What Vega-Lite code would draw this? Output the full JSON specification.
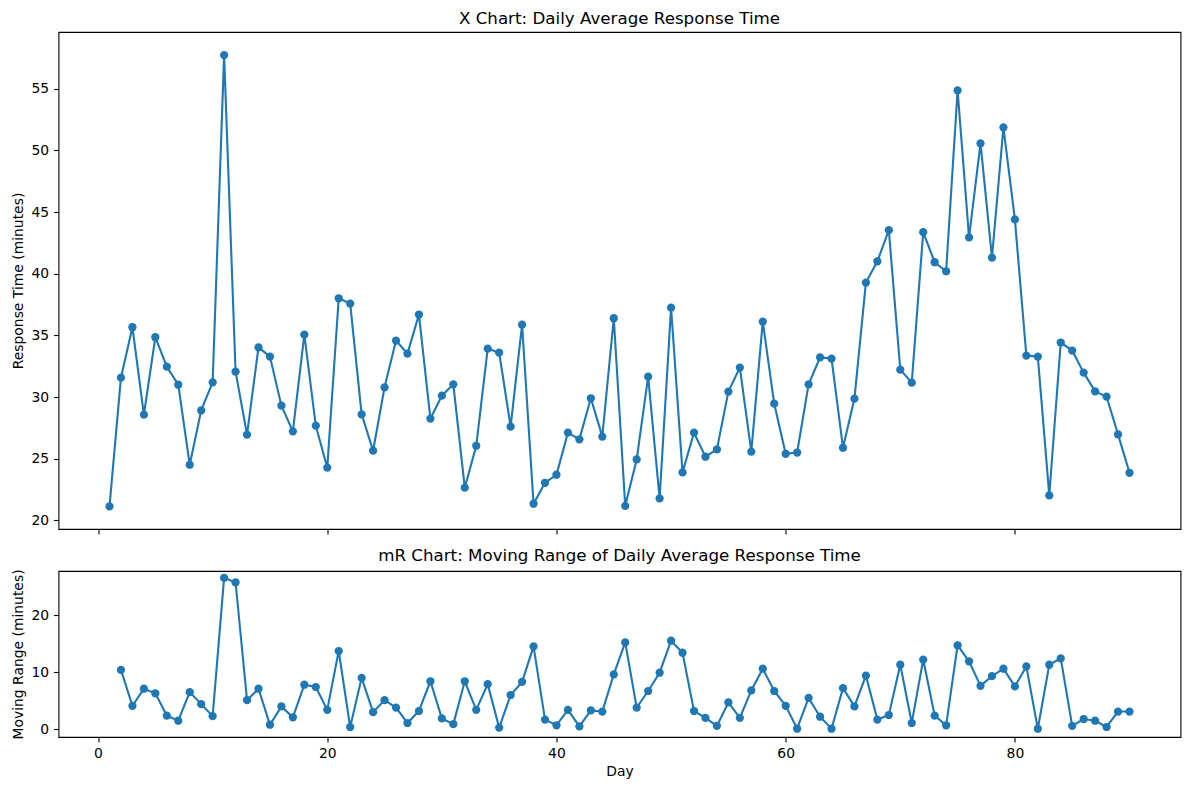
{
  "$schema": "https://vega.github.io/schema/vega-lite/v6.json",
  "padding": {"left": 10.5, "top": 10, "right": 9, "bottom": 10},
  "background": "white",
  "spacing": 12,
  "config": {
    "font": "DejaVu Sans",
    "view": {"stroke": "#000", "strokeWidth": 1.1},
    "axis": {
      "domain": false,
      "grid": false,
      "labelFont": "DejaVu Sans",
      "labelFontSize": 13.9,
      "labelColor": "#000",
      "titleFont": "DejaVu Sans",
      "titleFontSize": 13.9,
      "titleFontWeight": "normal",
      "titleColor": "#000",
      "tickColor": "#000",
      "tickSize": 4.9,
      "tickWidth": 1.1,
      "labelPadding": 4.9,
      "titlePadding": 5.6
    },
    "title": {"font": "DejaVu Sans", "fontSize": 16.7, "fontWeight": "normal", "color": "#000", "offset": 4, "baseline": "alphabetic"}
  },
  "data": {
    "values": [
      {"day": 1, "x": 21.13, "mr": null},
      {"day": 2, "x": 31.57, "mr": 10.4},
      {"day": 3, "x": 35.66, "mr": 4.1},
      {"day": 4, "x": 28.57, "mr": 7.1},
      {"day": 5, "x": 34.85, "mr": 6.3},
      {"day": 6, "x": 32.46, "mr": 2.4},
      {"day": 7, "x": 31.0, "mr": 1.5},
      {"day": 8, "x": 24.51, "mr": 6.5},
      {"day": 9, "x": 28.92, "mr": 4.4},
      {"day": 10, "x": 31.19, "mr": 2.3},
      {"day": 11, "x": 57.73, "mr": 26.5},
      {"day": 12, "x": 32.06, "mr": 25.7},
      {"day": 13, "x": 26.95, "mr": 5.1},
      {"day": 14, "x": 34.03, "mr": 7.1},
      {"day": 15, "x": 33.28, "mr": 0.8},
      {"day": 16, "x": 29.3, "mr": 4.0},
      {"day": 17, "x": 27.22, "mr": 2.1},
      {"day": 18, "x": 35.06, "mr": 7.8},
      {"day": 19, "x": 27.68, "mr": 7.4},
      {"day": 20, "x": 24.27, "mr": 3.4},
      {"day": 21, "x": 38.01, "mr": 13.7},
      {"day": 22, "x": 37.58, "mr": 0.4},
      {"day": 23, "x": 28.6, "mr": 9.0},
      {"day": 24, "x": 25.65, "mr": 3.0},
      {"day": 25, "x": 30.79, "mr": 5.1},
      {"day": 26, "x": 34.58, "mr": 3.8},
      {"day": 27, "x": 33.52, "mr": 1.1},
      {"day": 28, "x": 36.69, "mr": 3.2},
      {"day": 29, "x": 28.25, "mr": 8.4},
      {"day": 30, "x": 30.11, "mr": 1.9},
      {"day": 31, "x": 31.03, "mr": 0.9},
      {"day": 32, "x": 22.65, "mr": 8.4},
      {"day": 33, "x": 26.05, "mr": 3.4},
      {"day": 34, "x": 33.93, "mr": 7.9},
      {"day": 35, "x": 33.6, "mr": 0.3},
      {"day": 36, "x": 27.6, "mr": 6.0},
      {"day": 37, "x": 35.87, "mr": 8.3},
      {"day": 38, "x": 21.35, "mr": 14.5},
      {"day": 39, "x": 23.05, "mr": 1.7},
      {"day": 40, "x": 23.7, "mr": 0.7},
      {"day": 41, "x": 27.11, "mr": 3.4},
      {"day": 42, "x": 26.57, "mr": 0.5},
      {"day": 43, "x": 29.9, "mr": 3.3},
      {"day": 44, "x": 26.79, "mr": 3.1},
      {"day": 45, "x": 36.39, "mr": 9.6},
      {"day": 46, "x": 21.18, "mr": 15.2},
      {"day": 47, "x": 24.94, "mr": 3.8},
      {"day": 48, "x": 31.65, "mr": 6.7},
      {"day": 49, "x": 21.78, "mr": 9.9},
      {"day": 50, "x": 37.25, "mr": 15.5},
      {"day": 51, "x": 23.89, "mr": 13.4},
      {"day": 52, "x": 27.11, "mr": 3.2},
      {"day": 53, "x": 25.16, "mr": 2.0},
      {"day": 54, "x": 25.75, "mr": 0.6},
      {"day": 55, "x": 30.44, "mr": 4.7},
      {"day": 56, "x": 32.39, "mr": 2.0},
      {"day": 57, "x": 25.57, "mr": 6.8},
      {"day": 58, "x": 36.12, "mr": 10.6},
      {"day": 59, "x": 29.46, "mr": 6.7},
      {"day": 60, "x": 25.4, "mr": 4.1},
      {"day": 61, "x": 25.5, "mr": 0.1},
      {"day": 62, "x": 31.03, "mr": 5.5},
      {"day": 63, "x": 33.22, "mr": 2.2},
      {"day": 64, "x": 33.12, "mr": 0.1},
      {"day": 65, "x": 25.89, "mr": 7.2},
      {"day": 66, "x": 29.87, "mr": 4.0},
      {"day": 67, "x": 39.28, "mr": 9.4},
      {"day": 68, "x": 41.01, "mr": 1.7},
      {"day": 69, "x": 43.53, "mr": 2.5},
      {"day": 70, "x": 32.22, "mr": 11.3},
      {"day": 71, "x": 31.17, "mr": 1.1},
      {"day": 72, "x": 43.37, "mr": 12.2},
      {"day": 73, "x": 40.93, "mr": 2.4},
      {"day": 74, "x": 40.2, "mr": 0.7},
      {"day": 75, "x": 54.87, "mr": 14.7},
      {"day": 76, "x": 42.94, "mr": 11.9},
      {"day": 77, "x": 50.57, "mr": 7.6},
      {"day": 78, "x": 41.31, "mr": 9.3},
      {"day": 79, "x": 51.87, "mr": 10.6},
      {"day": 80, "x": 44.4, "mr": 7.5},
      {"day": 81, "x": 33.36, "mr": 11.0},
      {"day": 82, "x": 33.28, "mr": 0.1},
      {"day": 83, "x": 22.02, "mr": 11.3},
      {"day": 84, "x": 34.42, "mr": 12.4},
      {"day": 85, "x": 33.77, "mr": 0.6},
      {"day": 86, "x": 31.98, "mr": 1.8},
      {"day": 87, "x": 30.46, "mr": 1.5},
      {"day": 88, "x": 30.03, "mr": 0.4},
      {"day": 89, "x": 26.97, "mr": 3.1},
      {"day": 90, "x": 23.86, "mr": 3.1}
    ]
  },
  "vconcat": [
    {
      "width": 1122,
      "height": 497,
      "title": "X Chart: Daily Average Response Time",
      "mark": {
        "type": "line",
        "color": "#1f77b4",
        "strokeWidth": 2.1,
        "point": {"filled": true, "size": 68, "color": "#1f77b4", "opacity": 1}
      },
      "encoding": {
        "x": {
          "field": "day",
          "type": "quantitative",
          "scale": {"domain": [-3.45, 94.45], "nice": false, "zero": false},
          "axis": {"values": [0, 20, 40, 60, 80], "labels": false, "title": null}
        },
        "y": {
          "field": "x",
          "type": "quantitative",
          "scale": {"domain": [19.3, 59.6], "nice": false, "zero": false},
          "axis": {"values": [20, 25, 30, 35, 40, 45, 50, 55], "title": "Response Time (minutes)"}
        }
      }
    },
    {
      "width": 1122,
      "height": 166,
      "title": "mR Chart: Moving Range of Daily Average Response Time",
      "transform": [{"filter": "datum.mr != null"}],
      "mark": {
        "type": "line",
        "color": "#1f77b4",
        "strokeWidth": 2.1,
        "point": {"filled": true, "size": 68, "color": "#1f77b4", "opacity": 1}
      },
      "encoding": {
        "x": {
          "field": "day",
          "type": "quantitative",
          "scale": {"domain": [-3.45, 94.45], "nice": false, "zero": false},
          "axis": {"values": [0, 20, 40, 60, 80], "title": "Day", "titlePadding": 4}
        },
        "y": {
          "field": "mr",
          "type": "quantitative",
          "scale": {"domain": [-1.35, 27.7], "nice": false, "zero": false},
          "axis": {"values": [0, 10, 20], "title": "Moving Range (minutes)"}
        }
      }
    }
  ]
}
